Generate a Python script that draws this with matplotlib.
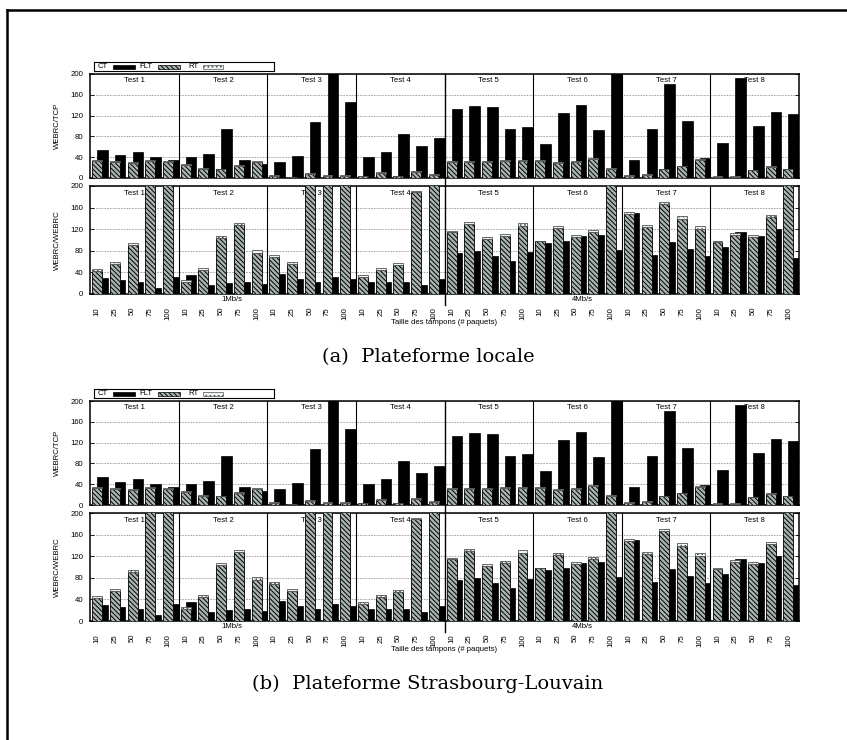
import matplotlib
matplotlib.use('Agg')
import matplotlib.pyplot as plt
import numpy as np
from matplotlib.patches import Rectangle
from matplotlib.lines import Line2D

plt.rcParams['font.family'] = ['Liberation Sans', 'DejaVu Sans']
plt.rcParams['hatch.linewidth'] = 0.7

# ---------------- data ----------------
TESTS = ['Test 1', 'Test 2', 'Test 3', 'Test 4', 'Test 5', 'Test 6', 'Test 7', 'Test 8']
BUFFERS = ['10', '25', '50', '75', '100']
RATES = ['1Mb/s', '4Mb/s']
XLABEL = 'Taille des tampons (# paquets)'
YLABEL_TOP = 'WEBRC/TCP'
YLABEL_BOT = 'WEBRC/WEBRC'
SERIES = ['CT', 'FLT', 'RT']
CAPTIONS = ['(a)  Plateforme locale', '(b)  Plateforme Strasbourg-Louvain']

# (a) Plateforme locale -- WEBRC/TCP
a_top_ct = [53, 44, 50, 40, 34.5,   40, 46, 95, 34, 27,
            30, 42, 108, 230, 146,  40, 50, 85, 61, 76,
            132, 138, 137, 95, 98,  65, 125, 140, 93, 230,
            34, 94, 180, 110, 38,   67, 192, 100, 126, 124]
a_top_flt = [33, 30.5, 29.5, 33.5, 31.5,  25.5, 17.5, 16.5, 24, 30.5,
             3.5, 1.2, 7.5, 3.5, 4.5,     3, 10, 3, 11.5, 6.5,
             31.5, 31.5, 31.5, 33.5, 33.5, 32.5, 29.5, 31.5, 36.5, 17.5,
             4.5, 6, 16.5, 22.5, 35.5,    1.5, 2.5, 14.5, 21.5, 16.5]
a_top_rt = [1.5] * 40
# (a) Plateforme locale -- WEBRC/WEBRC
a_bot_ct = [30, 26, 22, 11, 31,     35, 17, 20, 23, 18.5,
            37, 28, 21.5, 31, 28,   22, 22, 22, 17, 28,
            76.5, 80, 70, 62, 78,   94, 97.5, 108, 109, 81.5,
            150.5, 71.5, 97, 82.5, 71,  86.5, 114, 107.5, 120, 66]
a_bot_flt = [43, 56, 90, 230, 230,   23, 45, 103, 127, 76.5,
             69, 55.5, 230, 230, 230, 32, 44, 54, 188, 230,
             114, 130, 102.5, 107, 126.5, 97.5, 123, 105, 115, 230,
             149, 123.5, 166.5, 139.5, 121, 95.5, 108.5, 105, 143, 230]
a_bot_rt = [3, 3, 4, 5, 5,   2, 3, 4, 4, 4.5,
            3, 4, 5, 5, 5,   3, 3.5, 3, 3, 5,
            3, 3, 3.5, 4, 4.5, 1.5, 3.5, 4, 3.5, 5,
            2, 4.5, 3.5, 4.5, 5, 2.5, 4.5, 4, 3, 5]

# (b) Plateforme Strasbourg-Louvain -- WEBRC/TCP
b_top_ct = [53, 44, 50, 40, 34.5,   40, 46, 95, 34, 27,
            30, 42, 108, 230, 146,  40, 50, 85, 61, 75,
            132, 138, 137, 95, 98,  65, 125, 140, 93, 230,
            34, 94, 180, 110, 38,   67, 192, 100, 126, 124]
b_top_flt = [33, 30.5, 29.5, 33.5, 31.5,  25.5, 17.5, 16.5, 24, 30.5,
             3.5, 1.2, 7.5, 3.5, 4.5,     3, 10, 3, 11.5, 6.5,
             31.5, 31.5, 31.5, 33.5, 33.5, 32.5, 29.5, 31.5, 36.5, 17.5,
             4.5, 6, 16.5, 22.5, 35.5,    1.5, 2.5, 14.5, 21.5, 16.5]
b_top_rt = [1.5] * 40
# (b) Plateforme Strasbourg-Louvain -- WEBRC/WEBRC
b_bot_ct = [30, 26, 22, 11, 31,     35, 17, 20, 23, 18.5,
            37, 28, 21.5, 31, 28,   22, 22, 22, 17, 28,
            76.5, 80, 70, 62, 78,   94, 97.5, 108, 109, 81.5,
            150.5, 71.5, 97, 82.5, 71,  86.5, 114, 107.5, 120, 66]
b_bot_flt = [43, 56, 90, 230, 230,   23, 45, 103, 127, 76.5,
             69, 55.5, 230, 230, 230, 32, 44, 54, 188, 230,
             114, 130, 102.5, 107, 126.5, 97.5, 123, 105, 115, 230,
             149, 123.5, 166.5, 139.5, 121, 95.5, 108.5, 105, 143, 230]
b_bot_rt = [3, 3, 4, 5, 5,   2, 3, 4, 4, 4.5,
            3, 4, 5, 5, 5,   3, 3.5, 3, 3, 5,
            3, 3, 3.5, 4, 4.5, 1.5, 3.5, 4, 3.5, 5,
            2, 4.5, 3.5, 4.5, 5, 2.5, 4.5, 4, 3, 5]

# ---------------- style ----------------
FLT_FACE = '#a9b3b3'
RT_FACE = '#eef4f4'
FLT_HATCH = '\\\\\\\\\\\\\\'
RT_HATCH = '....'
FS = 5.6

W, H = 847, 740
fig = plt.figure(figsize=(W / 100, H / 100), dpi=100)


def fx(px):
    return px / W


def fy(py):
    return 1 - py / H


def axes_px(left, top, right, bottom):
    return fig.add_axes([fx(left), fy(bottom), (right - left) / W, (bottom - top) / H])


NG = len(TESTS) * len(BUFFERS)
X0, X1 = -0.4, NG - 0.4


def draw_panel(ax, flt, rt, ct, ylabel, bottom_panel):
    x = np.arange(NG)
    ax.bar(x, ct, width=0.6, align='edge', color='black', edgecolor='black', lw=0.5, zorder=2)
    ax.bar(x, flt, width=0.56, color=FLT_FACE, edgecolor='black', hatch=FLT_HATCH, lw=0.6, zorder=3)
    ax.bar(x, rt, bottom=flt, width=0.56, color=RT_FACE, edgecolor='#555555', hatch=RT_HATCH,
           lw=0.6, zorder=3)
    ax.set_xlim(X0, X1)
    ax.set_ylim(0, 200)
    ax.set_yticks(range(0, 201, 40))
    ax.yaxis.grid(True, ls=(0, (2.5, 1.5)), color='#8a8a8a', lw=0.5)
    ax.set_axisbelow(True)
    ax.tick_params(axis='y', direction='in', length=3, pad=5, labelsize=FS, right=True, width=0.6)
    for s in ax.spines.values():
        s.set_linewidth(1.1)
    nb = len(BUFFERS)
    for k in range(1, len(TESTS)):
        xb = k * nb + X0
        if k == len(TESTS) // 2:
            ext = -(8 / 104) if not bottom_panel else -(11 / 108)
            ax.axvline(xb, ymin=ext, ymax=1, color='black', lw=1.0, zorder=5, clip_on=False)
        else:
            ax.axvline(xb, color='black', lw=0.8, zorder=5)
    for k, t in enumerate(TESTS):
        ax.text(k * nb + X0 + nb / 2, 0.935, t, transform=ax.get_xaxis_transform(),
                ha='center', va='center', fontsize=FS, zorder=1.5)
    ax.text(-33 / 709, 0.5, ylabel, transform=ax.transAxes, rotation=90,
            ha='center', va='center', fontsize=FS)
    if bottom_panel:
        ax.set_xticks(x)
        ax.set_xticklabels(BUFFERS * len(TESTS), rotation=90, fontsize=FS)
        ax.tick_params(axis='x', length=0, pad=9.3)
        tr = ax.get_xaxis_transform()
        ax.text(7.6, -6 / 108, RATES[0], transform=tr, ha='center', va='center', fontsize=FS)
        ax.text(27.4, -6 / 108, RATES[1], transform=tr, ha='center', va='center', fontsize=FS)
        ax.text(19.6, -28.5 / 108, XLABEL, transform=tr, ha='center', va='center', fontsize=FS)
    else:
        ax.set_xticks([])


def draw_legend(top):
    lax = axes_px(94, top, 274, top + 9)
    lax.set_xlim(94, 274)
    lax.set_ylim(top + 9, top)
    lax.set_xticks([])
    lax.set_yticks([])
    for s in lax.spines.values():
        s.set_linewidth(0.8)
    yc = top + 4.5
    lax.text(98, yc, SERIES[0], ha='left', va='center', fontsize=FS)
    lax.add_patch(Rectangle((113, top + 2.5), 22, 4, facecolor='black', edgecolor='black', lw=0.5))
    lax.text(139, yc, SERIES[1], ha='left', va='center', fontsize=FS)
    lax.add_patch(Rectangle((158, top + 2.5), 22, 4, facecolor=FLT_FACE, edgecolor='black',
                            hatch=FLT_HATCH, lw=0.5))
    lax.text(188, yc, SERIES[2], ha='left', va='center', fontsize=FS)
    lax.add_patch(Rectangle((203, top + 2.5), 20, 4, facecolor=RT_FACE, edgecolor='#555555',
                            hatch=RT_HATCH, lw=0.5))


subfigs = [
    (0, (a_top_flt, a_top_rt, a_top_ct), (a_bot_flt, a_bot_rt, a_bot_ct)),
    (327, (b_top_flt, b_top_rt, b_top_ct), (b_bot_flt, b_bot_rt, b_bot_ct)),
]

for i, (off, top_data, bot_data) in enumerate(subfigs):
    ax_t = axes_px(90, 74 + off, 799, 178 + off)
    draw_panel(ax_t, *top_data, YLABEL_TOP, False)
    ax_b = axes_px(90, 186 + off, 799, 294 + off)
    draw_panel(ax_b, *bot_data, YLABEL_BOT, True)
    draw_legend(62 + off)
    fig.text(fx(428), fy(357 + off), CAPTIONS[i], family='DejaVu Serif', fontsize=14,
             ha='center', va='center')

# page frame (top and left edges of the figure box)
fig.add_artist(Line2D([fx(7), 1], [fy(10), fy(10)], lw=1.8, color='black', transform=fig.transFigure))
fig.add_artist(Line2D([fx(7), fx(7)], [fy(10), 0], lw=1.8, color='black', transform=fig.transFigure))

fig.savefig('out.png', dpi=100)
